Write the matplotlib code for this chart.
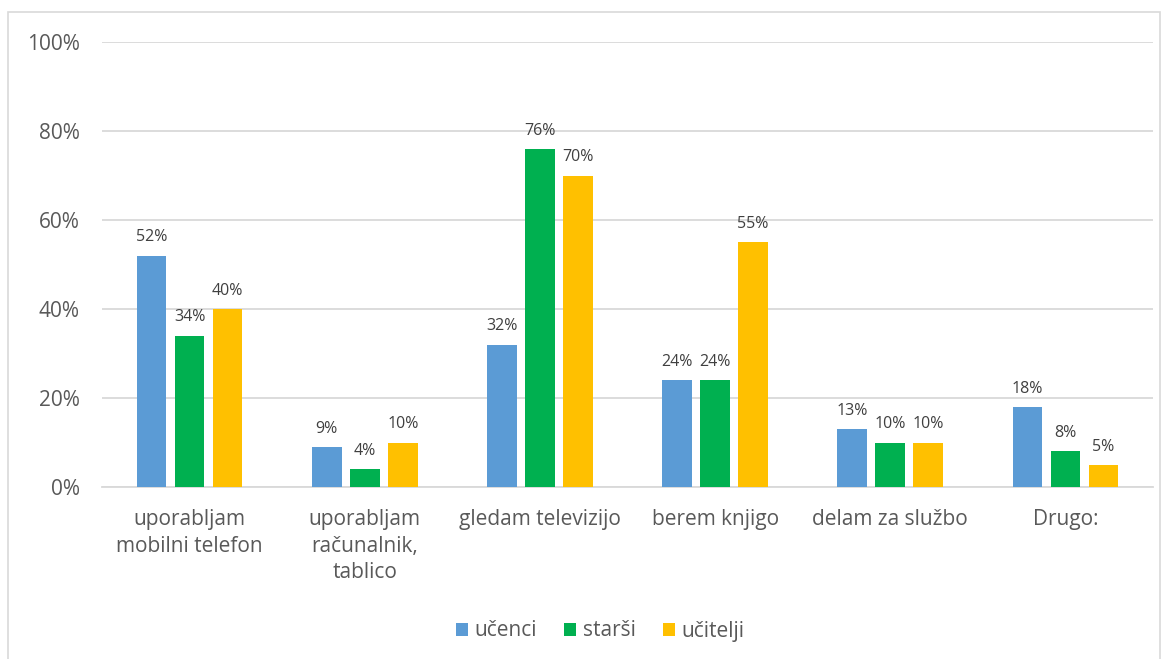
import numpy as np
from matplotlib import pyplot as plt
from matplotlib.patches import Rectangle

# Data
categories = ["uporabljam\nmobilni telefon", "uporabljam\nračunalnik,\ntablico",
              "gledam televizijo", "berem knjigo", "delam za službo", "Drugo:"]
series_names = ["učenci", "starši", "učitelji"]
ucenci   = [52, 9, 32, 24, 13, 18]
starsi   = [34, 4, 76, 24, 10, 8]
ucitelji = [40, 10, 70, 55, 10, 5]
yticks = [0, 20, 40, 60, 80, 100]

colors = ["#5B9BD5", "#00B050", "#FFC000"]
text_color = "#595959"
plt.rcParams['font.family'] = ['Open Sans', 'DejaVu Sans']

fig = plt.figure(figsize=(11.68, 6.59), dpi=100)
ax = fig.add_axes([102/1168, 1-487/659, (1153-102)/1168, (487-42)/659])

# Outer border like the Excel chart area
fig.patches.append(Rectangle((8/1168, -0.1), (1160-8)/1168, 1.1-12/659,
                             transform=fig.transFigure, fill=False,
                             edgecolor="#D9D9D9", linewidth=1.2))

x = np.arange(len(categories))
width = 0.17
offset = 0.217
for i, (vals, name) in enumerate(zip([ucenci, starsi, ucitelji], series_names)):
    pos = x + (i-1)*offset
    bars = ax.bar(pos, vals, width, color=colors[i], label=name, zorder=3)
    for b, v in zip(bars, vals):
        ax.text(b.get_x()+b.get_width()/2, v+2.3, f"{v}%", ha='center', va='bottom',
                fontsize=11.5, color="#404040")

ax.set_xlim(-0.5, len(categories)-0.5)
ax.set_ylim(0, 100)
ax.set_yticks(yticks)
ax.set_yticklabels([f"{t}%" for t in yticks])
ax.yaxis.grid(True, color="#D9D9D9", linewidth=1.3, zorder=0)
for s in ['top', 'right', 'left']:
    ax.spines[s].set_visible(False)
ax.spines['bottom'].set_color("#D9D9D9")
ax.spines['bottom'].set_linewidth(1.3)
ax.tick_params(axis='both', length=0, colors=text_color, labelsize=15)
ax.tick_params(axis='y', pad=16)
ax.tick_params(axis='x', pad=16)
ax.set_xticks(x)
ax.set_xticklabels(categories, va='top', linespacing=1.35)

leg = fig.legend(loc='center', bbox_to_anchor=(600/1168, 1-631/659), ncol=3, frameon=False,
                 fontsize=15, handlelength=0.6, handleheight=0.6, handletextpad=0.3,
                 columnspacing=1.3)
for t in leg.get_texts():
    t.set_color(text_color)

plt.savefig("out.png", dpi=100, facecolor="white")
plt.close()
